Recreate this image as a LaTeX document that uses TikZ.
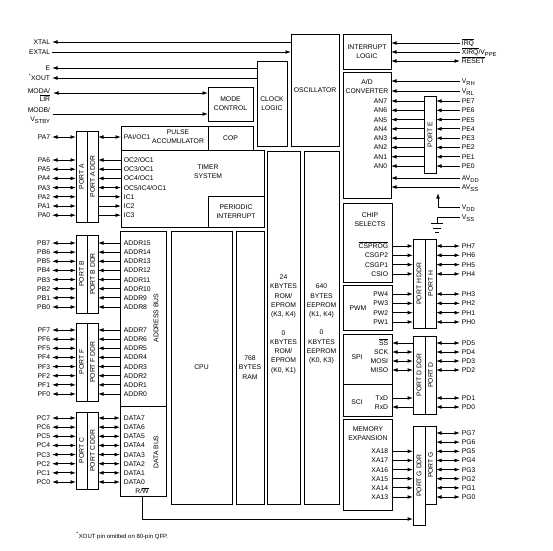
\documentclass[tikz,border=0pt]{standalone}
\usepackage{fontspec}
\setmainfont{Liberation Sans}
\usetikzlibrary{arrows.meta}
\newcommand\ovl[1]{$\overline{\mbox{#1}}$}
\newcommand\sbs[1]{\raisebox{-0.45ex}{\fontsize{5.8}{6}\selectfont #1}}
\newcommand\bx[7][]{\node[box,#1,minimum width={(#5-#3)*1pt},minimum height={(#6-#4)*1pt}] (#2) at ({(#3+#5)/2},{(#4+#6)/2}) {#7};}
\newcommand\rt[1]{\rotatebox{90}{#1}}
\begin{document}
\begin{tikzpicture}[x=1pt,y=-1pt,line width=0.8pt,
  font=\fontsize{6.8}{9.2}\selectfont,
  box/.style={draw,line width=1pt,inner sep=0pt,outer sep=0pt,align=center},
  pin/.style={inner sep=1.5pt,text height=4.9pt,text depth=0pt},
  pinl/.style={pin,anchor=east},
  pinr/.style={pin,anchor=west},
  >={Latex[length=5.5pt,width=3.8pt]}]
\useasboundingbox (0,0) rectangle (553,550);
% ---------- boxes
\bx{osc}{291}{34}{339}{146}{OSCILLATOR}
\bx{clk}{257}{61}{287}{146}{CLOCK\\LOGIC}
\bx{mode}{208}{87}{253}{121}{MODE\\CONTROL}
\bx{pulse}{121}{126}{208}{150}{}
\bx{cop}{208}{126}{253}{150}{COP}
\bx{timer}{121}{150}{264}{227}{}
\bx{pit}{208}{196}{264}{227}{PERIODIC\\INTERRUPT}
\bx{porta}{76}{131}{87}{222}{\rt{PORT A}}
\bx{portaddr}{87}{131}{98}{222}{\rt{PORT A DDR}}
\bx{portb}{76}{235}{87}{313}{\rt{PORT B}}
\bx{portbddr}{87}{235}{98}{313}{\rt{PORT B DDR}}
\bx{portf}{76}{323}{87}{401}{\rt{PORT F}}
\bx{portfddr}{87}{323}{98}{401}{\rt{PORT F DDR}}
\bx{portc}{76}{412}{87}{489}{\rt{PORT C}}
\bx{portcddr}{87}{412}{98}{489}{\rt{PORT C DDR}}
\bx{addr}{120}{231}{166}{406}{}
\bx{data}{120}{406}{166}{496}{}
\bx{cpu}{171}{231}{232}{504}{CPU}
\bx{ram}{236}{231}{264}{504}{768\\BYTES\\RAM}
\bx{rom}{267}{151}{300}{504}{}
\bx{eeprom}{304}{151}{339}{504}{}
\bx{intl}{343}{34}{391}{69}{INTERRUPT\\LOGIC}
\bx{adc}{343}{72}{391}{198}{}
\bx{porte}{424}{96}{436}{173}{\rt{PORT E}}
\bx{cs}{343}{203}{392}{282}{}
\bx{pwm}{343}{285}{392}{330}{}
\bx{spi}{343}{334}{392}{384}{}
\bx{sci}{343}{384}{392}{416}{}
\bx{porthddr}{413}{239}{425}{328}{\rt{PORT H DDR}}
\bx{porth}{425}{239}{436}{328}{\rt{PORT H}}
\bx{portdddr}{413}{336}{425}{414}{\rt{PORT D DDR}}
\bx{portd}{425}{336}{436}{414}{\rt{PORT D}}
\bx{mem}{343}{419}{392}{510}{}
\bx{portgddr}{413}{426}{425}{525}{\rt{PORT G DDR}}
\bx{portg}{425}{426}{436}{504}{\rt{PORT G}}
% ---------- texts inside boxes
\node[align=center] (pulset) at (178,136.5) {PULSE\\ACCUMULATOR};
\node[align=center] (timert) at (208,171.5) {TIMER\\SYSTEM};
\node (addrt) at (156,318) {\rt{ADDRESS BUS}};
\node (datat) at (156,452) {\rt{DATA BUS}};
\node[align=center] (romt1) at (283.5,296.5) {24\\KBYTES\\ROM/\\EPROM\\(K3, K4)};
\node[align=center] (romt2) at (283.5,352) {0\\KBYTES\\ROM/\\EPROM\\(K0, K1)};
\node[align=center] (eet1) at (321.5,301) {640\\BYTES\\EEPROM\\(K1, K4)};
\node[align=center] (eet2) at (321.5,347) {0\\KBYTES\\EEPROM\\(K0, K3)};
\node[align=center] (adct) at (367,86.5) {A/D\\CONVERTER};
\node[align=center] (cst) at (370,220) {CHIP\\SELECTS};
\node (pwmt) at (358,308) {PWM};
\node (spit) at (357,357) {SPI};
\node (scit) at (357,402) {SCI};
\node[align=center] (memt) at (368,434) {MEMORY\\EXPANSION};
% ---------- top-left pins
\node[pinl] (xtal) at (52,42) {XTAL};
\node[pinl] (extal) at (52,52) {EXTAL};
\node[pinl] (e) at (52,68) {E};
\node[pinl] (xout) at (52,78) {\textsuperscript{*}XOUT};
\node[anchor=east,align=right,inner sep=1.5pt,font=\fontsize{6.8}{8}\selectfont] (moda) at (52,95) {MODA/\\\ovl{LIR}};
\node[anchor=east,align=right,inner sep=1.5pt,font=\fontsize{6.8}{8.5}\selectfont] (modb) at (52,115.5) {MODB/\\V\sbs{STBY}};
\coordinate (modac) at (53,93);
\coordinate (modbc) at (53,114);
\draw[<-] (xtal) -- (osc.west |- xtal);
\draw[->] (extal) -- (osc.west |- extal);
\draw[<-] (e) -- (clk.west |- e);
\draw[<-] (xout) -- (clk.west |- xout);
\draw[<->] (modac) -- (mode.west |- modac);
\draw[->] (modbc) -- (mode.west |- modbc);
% ---------- port A
\node[pinl] (pa7) at (52,137) {PA7};
\node[pinr] (pai) at (122,137) {PAI/OC1};
\draw[<->] (pa7) -- (porta.west |- pa7);
\draw[<->] (portaddr.east |- pai) -- (pulse.west |- pai);
\foreach \i/\y/\lab/\dir in {6/160/{OC2/OC1}/<-,5/169.2/{OC3/OC1}/<-,4/178.4/{OC4/OC1}/<-,3/187.6/{OC5/IC4/OC1}/<->,2/196.8/IC1/->,1/206/IC2/->,0/215.2/IC3/->}{
  \node[pinl] (pa\i) at (52,\y) {PA\i};
  \node[pinr] (tm\i) at (122,\y) {\lab};
  \draw[<->] (pa\i) -- (porta.west |- pa\i);
  \draw[\dir] (portaddr.east |- tm\i) -- (timer.west |- tm\i);
}
% ---------- port B, F, C
\foreach \i in {0,...,7}{
  \pgfmathsetmacro\y{243+(7-\i)*9.14}
  \pgfmathtruncatemacro\an{\i+8}
  \node[pinl] (pb\i) at (52,\y) {PB\i};
  \node[pinr] (ad\an) at (122,\y) {ADDR\an};
  \draw[<->] (pb\i) -- (portb.west |- pb\i);
  \draw[<-] (portbddr.east |- ad\an) -- (addr.west |- ad\an);
}
\foreach \i in {0,...,7}{
  \pgfmathsetmacro\y{330+(7-\i)*9.14}
  \node[pinl] (pf\i) at (52,\y) {PF\i};
  \node[pinr] (ad\i) at (122,\y) {ADDR\i};
  \draw[<->] (pf\i) -- (portf.west |- pf\i);
  \draw[<-] (portfddr.east |- ad\i) -- (addr.west |- ad\i);
}
\foreach \i in {0,...,7}{
  \pgfmathsetmacro\y{418+(7-\i)*9.14}
  \node[pinl] (pc\i) at (52,\y) {PC\i};
  \node[pinr] (dt\i) at (122,\y) {DATA\i};
  \draw[<->] (pc\i) -- (portc.west |- pc\i);
  \draw[<->] (portcddr.east |- dt\i) -- (data.west |- dt\i);
}
% ---------- R/W
\node (rw) at (142,490.5) {R/\ovl{W}};
\coordinate (rwturn) at (142,519);
\draw[->] (data.south -| rwturn) -- (rwturn) -- (portgddr.west |- rwturn);
% ---------- interrupt / A/D
\node[pinr] (irq) at (460,43) {\ovl{IRQ}};
\node[pinr] (xirq) at (460,52) {\ovl{XIRQ}/V\sbs{PPE}};
\node[pinr] (reset) at (460,61) {\ovl{RESET}};
\draw[->] (irq) -- (intl.east |- irq);
\draw[->] (xirq) -- (intl.east |- xirq);
\draw[<->] (reset) -- (intl.east |- reset);
\node[pinr] (vrh) at (460,81) {V\sbs{RH}};
\node[pinr] (vrl) at (460,91) {V\sbs{RL}};
\draw[->] (vrh) -- (adc.east |- vrh);
\draw[->] (vrl) -- (adc.east |- vrl);
\foreach \i in {0,...,7}{
  \pgfmathsetmacro\y{101+(7-\i)*9.29}
  \node[pinr] (pe\i) at (460,\y) {PE\i};
  \node[pinl] (an\i) at (389,\y) {AN\i};
  \draw[->] (pe\i) -- (porte.east |- pe\i);
  \draw[->] (porte.west |- pe\i) -- (adc.east |- pe\i);
}
\node[pinr] (avdd) at (460,178) {AV\sbs{DD}};
\node[pinr] (avss) at (460,187) {AV\sbs{SS}};
\draw[->] (avdd) -- (adc.east |- avdd);
\draw[->] (avss) -- (adc.east |- avss);
% ---------- VDD / VSS
\node[pinr] (vdd) at (460,207) {V\sbs{DD}};
\node[pinr] (vss) at (460,217) {V\sbs{SS}};
\coordinate (vddc) at (438,207);
\coordinate (vddt) at (438,193);
\draw[->] (vdd) -- (vddc) -- (vddt);
\coordinate (gnd) at (437,223.5);
\draw (vss) -- (gnd |- vss) -- (gnd);
\draw ([xshift=-6pt]gnd) -- ([xshift=6pt]gnd);
\draw ([xshift=-4pt,yshift=-4.5pt]gnd) -- ([xshift=4pt,yshift=-4.5pt]gnd);
\draw ([xshift=-1.8pt,yshift=-9pt]gnd) -- ([xshift=1.8pt,yshift=-9pt]gnd);
% ---------- port H
\foreach \i/\lab in {7/\ovl{CSPROG},6/CSGP2,5/CSGP1,4/CSIO}{
  \pgfmathsetmacro\y{246+(7-\i)*9.3}
  \node[pinl] (cs\i) at (390,\y) {\lab};
  \node[pinr] (ph\i) at (460,\y) {PH\i};
  \draw[->] (cs.east |- cs\i) -- (porthddr.west |- cs\i);
  \draw[<->] (porth.east |- ph\i) -- (ph\i);
}
\foreach \i in {0,...,3}{
  \pgfmathsetmacro\y{294+(3-\i)*9.33}
  \pgfmathtruncatemacro\pw{\i+1}
  \node[pinl] (pw\pw) at (390,\y) {PW\pw};
  \node[pinr] (ph\i) at (460,\y) {PH\i};
  \draw[->] (pwm.east |- pw\pw) -- (porthddr.west |- pw\pw);
  \draw[<->] (porth.east |- ph\i) -- (ph\i);
}
% ---------- port D
\foreach \i/\y/\lab/\dir/\bxn in {5/343/\ovl{SS}/<-/spi,4/352/SCK/<->/spi,3/361/MOSI/<->/spi,2/370/MISO/<->/spi,1/398/TxD/->/sci,0/407/RxD/<-/sci}{
  \node[pinl] (sd\i) at (390,\y) {\lab};
  \node[pinr] (pd\i) at (460,\y) {PD\i};
  \draw[\dir] (\bxn.east |- sd\i) -- (portdddr.west |- sd\i);
  \draw[<->] (portd.east |- pd\i) -- (pd\i);
}
% ---------- port G
\foreach \i in {0,...,7}{
  \pgfmathsetmacro\y{433+(7-\i)*9.14}
  \node[pinr] (pg\i) at (460,\y) {PG\i};
  \draw[<->] (portg.east |- pg\i) -- (pg\i);
}
\foreach \i in {0,...,5}{
  \pgfmathsetmacro\y{433+(7-\i)*9.14}
  \pgfmathtruncatemacro\xa{\i+13}
  \node[pinl] (xa\xa) at (390,\y) {XA\xa};
  \draw[->] (mem.east |- xa\xa) -- (portgddr.west |- xa\xa);
}
% ---------- footnote
\node[anchor=west,inner sep=0pt,font=\fontsize{6}{7}\selectfont] (foot) at (76,536) {\textsuperscript{*}XOUT pin omitted on 80-pin QFP.};
\end{tikzpicture}
\end{document}
